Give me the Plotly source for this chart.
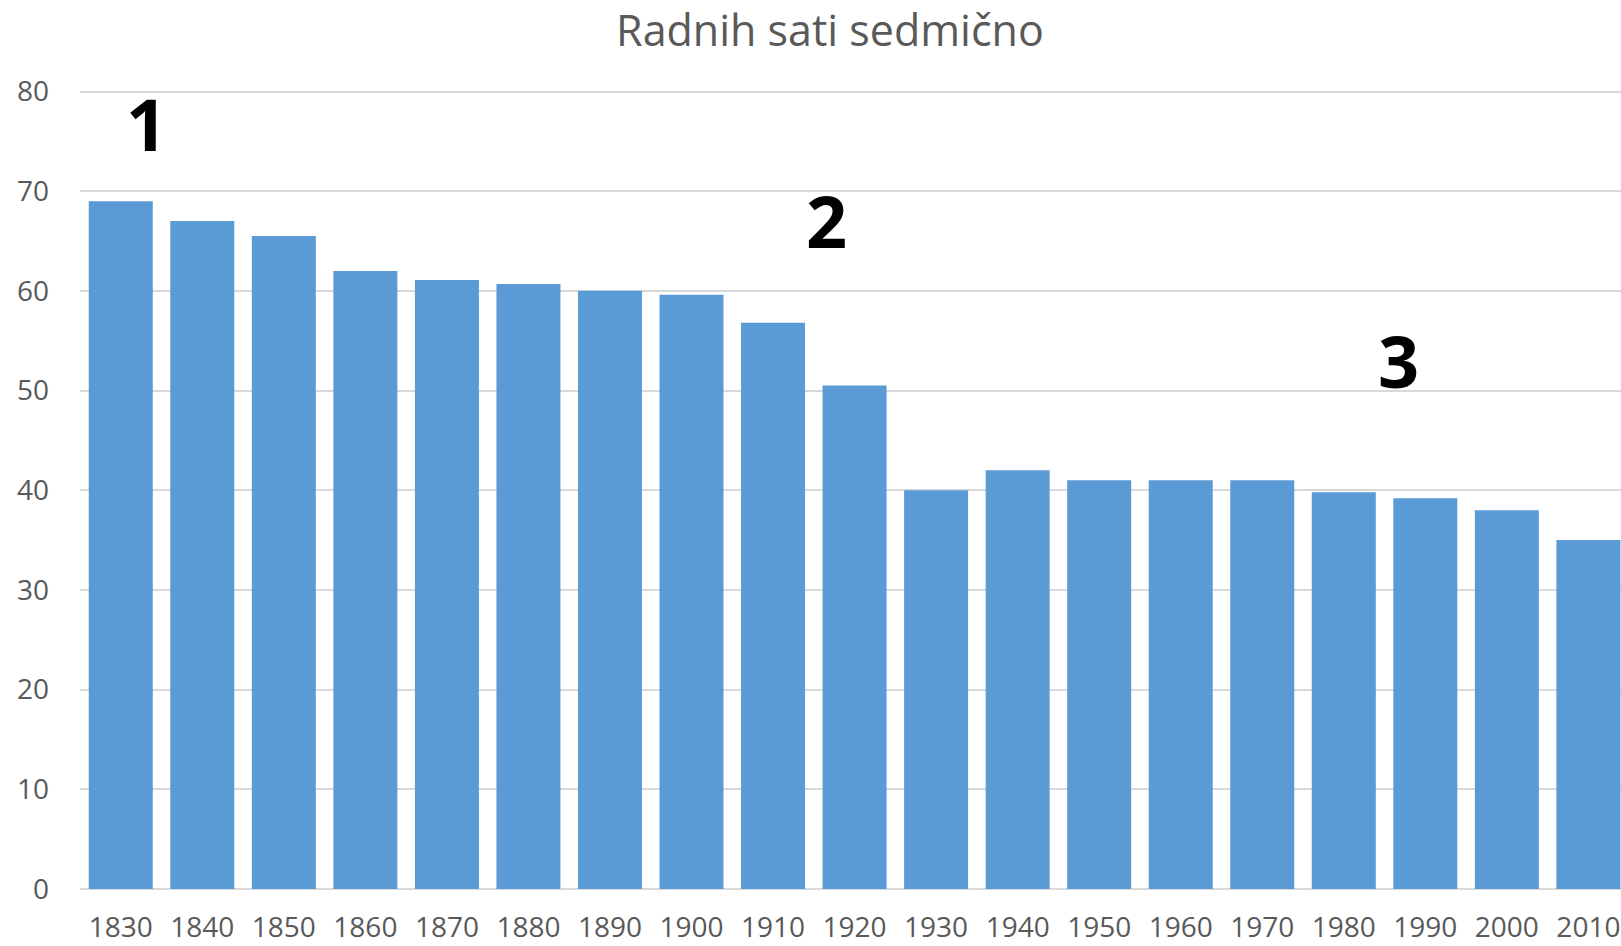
import plotly.graph_objects as go

years = ["1830", "1840", "1850", "1860", "1870", "1880", "1890", "1900", "1910", "1920",
         "1930", "1940", "1950", "1960", "1970", "1980", "1990", "2000", "2010"]
hours = [69.0, 67.0, 65.5, 62.0, 61.1, 60.7, 60.0, 59.6, 56.8, 50.5,
         40.0, 42.0, 41.0, 41.0, 41.0, 39.8, 39.2, 38.0, 35.0]

marker_labels = ["1", "2", "3"]
marker_x = [0.31, 8.66, 15.67]
marker_y = [76.8, 67.1, 53.1]

y_ticks = [0, 10, 20, 30, 40, 50, 60, 70, 80]

fig = go.Figure()
fig.add_trace(go.Bar(
    x=list(range(len(years))),
    y=hours,
    marker=dict(color="#5B9BD5", line=dict(width=0)),
    hoverinfo="x+y",
))

for lab, xx, yy in zip(marker_labels, marker_x, marker_y):
    fig.add_annotation(
        x=xx, y=yy, text=lab, showarrow=False,
        xref="x", yref="y", xanchor="center", yanchor="middle",
        font=dict(family="Open Sans", size=72, color="#000000", weight="bold"),
    )

fig.update_layout(
    width=1621, height=946,
    margin=dict(l=80, r=0, t=90, b=57),
    paper_bgcolor="white", plot_bgcolor="white",
    bargap=0.215,
    showlegend=False,
    title=dict(
        text="Radnih sati sedmično",
        x=0.512, xanchor="center", y=0.967, yanchor="middle",
        font=dict(family="Open Sans", size=43, color="#595959"),
    ),
    font=dict(family="Open Sans", color="#595959"),
)

fig.update_xaxes(
    tickmode="array",
    tickvals=list(range(len(years))),
    ticktext=years,
    range=[-0.5, 18.4],
    showgrid=False, zeroline=False,
    showline=False,
    ticks="", ticklen=0,
    tickfont=dict(family="Open Sans", size=28, color="#595959"),
    ticklabelstandoff=19,
    automargin=False,
)
fig.update_yaxes(
    range=[0, 80.15],
    tickmode="array",
    tickvals=y_ticks,
    showgrid=True, gridcolor="#D9D9D9", gridwidth=1.5,
    zeroline=True, zerolinecolor="#D9D9D9", zerolinewidth=2,
    showline=False,
    ticks="",
    tickfont=dict(family="Open Sans", size=28, color="#595959"),
    ticklabelstandoff=30,
    automargin=False,
)

fig.write_html(
    "out.html",
    config={"displayModeBar": False},
    post_script="document.body.style.margin='0';document.body.style.overflow='hidden';",
)
